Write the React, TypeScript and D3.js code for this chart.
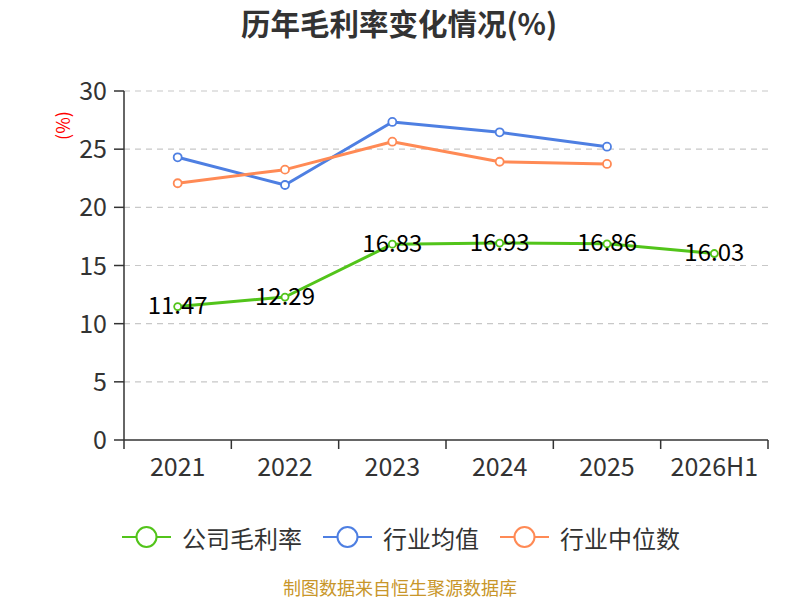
import React from "react";
import * as d3 from "d3";

const categories = ["2021", "2022", "2023", "2024", "2025", "2026H1"];
const companyMargin = [11.47, 12.29, 16.83, 16.93, 16.86, 16.03];
const industryAvg = [24.3, 21.92, 27.34, 26.45, 25.21, null];
const industryMedian = [22.07, 23.24, 25.64, 23.92, 23.73, null];
const yTicks = [0, 5, 10, 15, 20, 25, 30];
const seriesNames = ["公司毛利率", "行业均值", "行业中位数"];
const seriesColors = ["#52c41a", "#4e7fe2", "#ff8a55"];

const W = 800;
const H = 600;
const left = 124;
const right = 768;
const top = 91;
const bottom = 440;
const font = "'Noto Sans CJK SC', 'Microsoft YaHei', sans-serif";
const legendFont = 24;

export default function App() {
  const x = d3.scaleBand<string>().domain(categories).range([left, right]);
  const y = d3.scaleLinear().domain([0, 30]).range([bottom, top]);
  const cx = (c: string) => (x(c) as number) + x.bandwidth() / 2;

  const series = [companyMargin, industryAvg, industryMedian];
  const line = d3
    .line<number | null>()
    .defined((d) => d !== null)
    .x((_, i) => cx(categories[i]))
    .y((d) => y(d as number));

  const ticksX = categories.map((c) => x(c) as number).concat([right]);

  // sequential legend layout
  let lx = 122;
  const legendItems = seriesNames.map((n, i) => {
    const start = lx;
    lx += 60 + n.length * legendFont + 21;
    return { n, i, start };
  });

  return (
    <div style={{ position: "absolute", left: 0, top: 0 }}>
      <svg width={W} height={H} style={{ display: "block", fontFamily: font }}>
        <rect width={W} height={H} fill="#fff" />
        <text x={399} y={22} textAnchor="middle" dominantBaseline="central" fontSize={29.5} fontWeight="bold" fill="#333">
          历年毛利率变化情况(%)
        </text>
        {/* grid */}
        {yTicks.filter((t) => t > 0).map((t) => (
          <line key={t} x1={left} x2={right} y1={y(t)} y2={y(t)} stroke="#c8c8c8" strokeWidth={1.2} strokeDasharray="6,5" />
        ))}
        {/* y axis */}
        <line x1={left} x2={left} y1={top} y2={bottom} stroke="#333" strokeWidth={1.5} />
        {yTicks.map((t) => (
          <g key={t}>
            <line x1={left - 10} x2={left} y1={y(t)} y2={y(t)} stroke="#333" strokeWidth={1.5} />
            <text x={left - 17} y={y(t) - 2} textAnchor="end" dominantBaseline="central" fontSize={25} fill="#333">
              {t}
            </text>
          </g>
        ))}
        <text
          transform={`translate(62,125.5) rotate(-90)`}
          textAnchor="middle"
          dominantBaseline="central"
          fontSize={18}
          fill="#ff0000"
        >
          (%)
        </text>
        {/* x axis */}
        <line x1={left} x2={right} y1={bottom} y2={bottom} stroke="#333" strokeWidth={1.5} />
        {ticksX.map((t, i) => (
          <line key={i} x1={t} x2={t} y1={bottom} y2={bottom + 9} stroke="#333" strokeWidth={1.5} />
        ))}
        {categories.map((c) => (
          <text key={c} x={cx(c)} y={465} textAnchor="middle" dominantBaseline="central" fontSize={25} fill="#333">
            {c}
          </text>
        ))}
        {/* lines */}
        {series.map((s, si) => (
          <path key={si} d={line(s) || ""} fill="none" stroke={seriesColors[si]} strokeWidth={3} strokeLinejoin="round" />
        ))}
        {series.map((s, si) =>
          s.map((v, i) =>
            v === null ? null : (
              <circle
                key={`${si}-${i}`}
                cx={cx(categories[i])}
                cy={y(v)}
                r={si === 0 ? 3.5 : 4}
                fill="#fff"
                stroke={seriesColors[si]}
                strokeWidth={1.8}
              />
            )
          )
        )}
        {companyMargin.map((v, i) => (
          <text
            key={i}
            x={cx(categories[i])}
            y={y(v) - 3}
            textAnchor="middle"
            dominantBaseline="central"
            fontSize={24}
            fill="#000"
          >
            {v.toFixed(2)}
          </text>
        ))}
        {/* legend */}
        {legendItems.map(({ n, i, start }) => (
          <g key={n}>
            <line x1={start} x2={start + 49} y1={537} y2={537} stroke={seriesColors[i]} strokeWidth={2} />
            <circle cx={start + 24.5} cy={537} r={10} fill="#fff" stroke={seriesColors[i]} strokeWidth={2} />
            <text x={start + 60} y={537} dominantBaseline="central" fontSize={legendFont} fill="#333">
              {n}
            </text>
          </g>
        ))}
        <text x={400} y={587} textAnchor="middle" dominantBaseline="central" fontSize={18} fill="#c8962a">
          制图数据来自恒生聚源数据库
        </text>
      </svg>
    </div>
  );
}
